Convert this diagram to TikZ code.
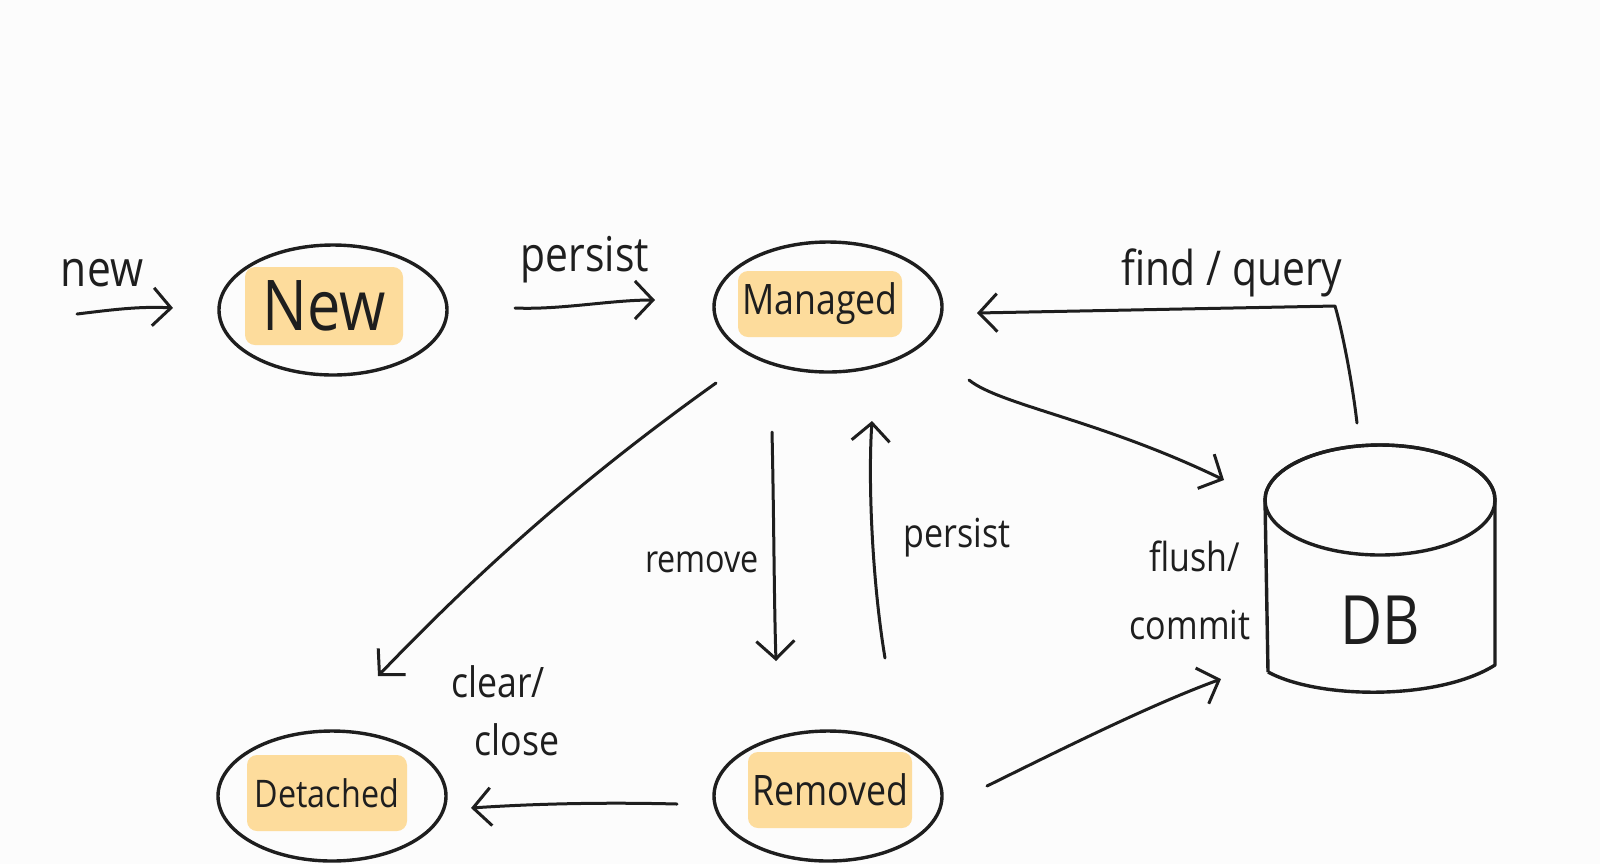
\documentclass[tikz,border=0pt]{standalone}
\usepackage{fontspec}
\setmainfont{Open Sans}[FakeStretch=0.85]
\usetikzlibrary{arrows.meta,shapes.geometric}
\definecolor{ink}{HTML}{1E1E1E}
\definecolor{hlc}{HTML}{FDDC9C}
\definecolor{bgc}{HTML}{FCFCFC}
\tikzset{
  stateell/.style={draw=ink, line width=1.7pt, ellipse, minimum width=114pt, minimum height=65pt, inner sep=0pt},
  hl/.style={fill=hlc, rounded corners=5pt, inner sep=0pt, text=ink},
  lbl/.style={text=ink, inner sep=0pt, align=center},
  conn/.style={draw=ink, line width=1.5pt, line cap=round, line join=round, -{Straight Barb[length=9pt,width=19pt,line width=1.5pt]}},
  plain/.style={draw=ink, line width=1.5pt, line cap=round, line join=round},
}
\begin{document}
\begin{tikzpicture}[x=0.5pt,y=-0.5pt]
\fill[bgc] (0,0) rectangle (1600,864);
\useasboundingbox (0,0) rectangle (1600,864);

% states
\node[stateell] (new) at (333,310) {};
\node[hl, minimum width=79pt, minimum height=39pt, font=\fontsize{35}{37}\selectfont] (newt) at (324,306) {New};

\node[stateell] (man) at (828,307) {};
\node[hl, minimum width=82pt, minimum height=33pt, font=\fontsize{21}{23}\selectfont] (mant) at (820,304) {Managed};

\node[stateell] (det) at (332,796) {};
\node[hl, minimum width=80pt, minimum height=38pt, font=\fontsize{19}{21}\selectfont] (dett) at (327,793) {Detached};

\node[stateell] (rem) at (828,796) {};
\node[hl, minimum width=82pt, minimum height=38pt, font=\fontsize{21}{23}\selectfont] (remt) at (830,790) {Removed};

% database cylinder
\draw[ink, line width=1.7pt, line join=round]
  (1268,672) -- (1265,500) arc[start angle=180, end angle=360, x radius=115, y radius=55]
  -- (1495,665)
  .. controls (1440,700) and (1320,700) .. (1268,672);
\draw[ink, line width=1.7pt] (1380,500) ellipse[x radius=115, y radius=55];
\node[lbl, font=\fontsize{34}{36}\selectfont] (db) at (1380,620) {DB};

% labels
\node[lbl, font=\fontsize{25}{27}\selectfont] (lnew) at (102,273) {new};
\node[lbl, font=\fontsize{24}{26}\selectfont] (lpers1) at (585,260) {persist};
\node[lbl, font=\fontsize{24}{26}\selectfont] (lfind) at (1232,273) {find / query};
\node[lbl, font=\fontsize{20}{22}\selectfont] (lflush) at (1195,556) {flush/};
\node[lbl, font=\fontsize{20}{22}\selectfont] (lcommit) at (1190,625) {commit};
\node[lbl, font=\fontsize{19}{21}\selectfont] (lrem) at (702,562) {remove};
\node[lbl, font=\fontsize{20}{22}\selectfont] (lpers2) at (957,538) {persist};
\node[lbl, font=\fontsize{21}{23}\selectfont] (lclear) at (498,682) {clear/};
\node[lbl, font=\fontsize{21}{23}\selectfont] (lclose) at (517,740) {close};

% connector end points
\coordinate (a1s) at (77,314);   \coordinate (a1e) at (173,308);
\coordinate (a2s) at (515,308);  \coordinate (a2e) at (655,300);
\coordinate (a3s) at (1357,423); \coordinate (a3m) at (1335,306); \coordinate (a3e) at (977,313);
\coordinate (a4s) at (969,380);  \coordinate (a4e) at (1224,480);
\coordinate (a5s) at (987,786);  \coordinate (a5e) at (1221,679);
\coordinate (a6s) at (716,383);  \coordinate (a6e) at (378,676);
\coordinate (a7s) at (772,432);  \coordinate (a7e) at (776,661);
\coordinate (a8s) at (885,658);  \coordinate (a8e) at (872,421);
\coordinate (a9s) at (677,804);  \coordinate (a9e) at (471,808);

% connectors
\draw[conn] (a1s) .. controls (110,310) and (140,306) .. (a1e);
\draw[conn] (a2s) .. controls (560,310) and (610,300) .. (a2e);
\draw[conn] (a3s) .. controls (1352,380) and (1342,330) .. (a3m) -- (a3e);
\draw[conn] (a4s) .. controls (1000,405) and (1100,420) .. (a4e);
\draw[conn] (a5s) .. controls (1060,750) and (1150,705) .. (a5e);
\draw[conn] (a6s) .. controls (580,480) and (480,570) .. (a6e);
\draw[conn] (a7s) .. controls (774,520) and (774,600) .. (a7e);
\draw[conn] (a8s) .. controls (872,580) and (868,480) .. (a8e);
\draw[conn] (a9s) .. controls (600,802) and (530,804) .. (a9e);
\end{tikzpicture}
\end{document}
